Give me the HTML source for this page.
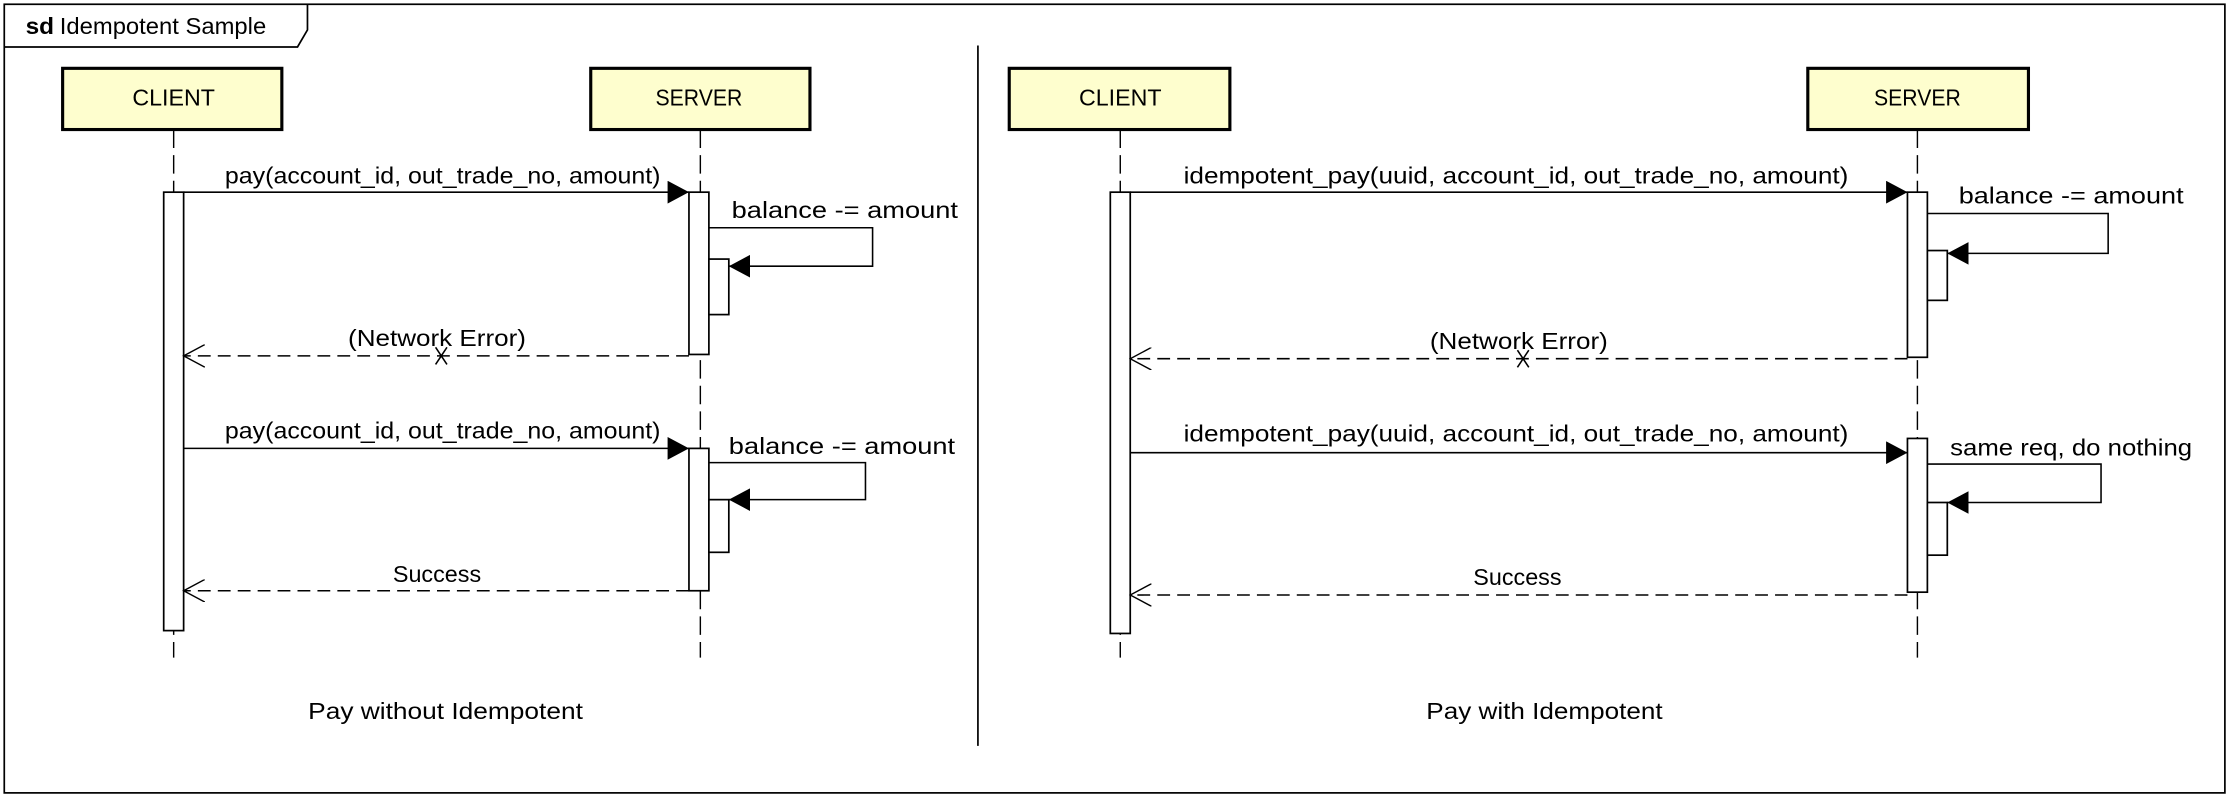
<!DOCTYPE html>
<html><head><meta charset="utf-8"><style>
html,body{margin:0;padding:0;background:#fff;}
svg{display:block;}
text{font-family:"Liberation Sans",sans-serif;font-size:16px;fill:#000;}
</style></head><body>
<svg width="2232" height="800" viewBox="0 0 1568 562" preserveAspectRatio="none">
<defs>
<marker id="f" markerWidth="16" markerHeight="16" refX="15" refY="8" orient="auto" markerUnits="userSpaceOnUse"><path d="M0,0 L15,8 L0,16 Z" fill="#000"/></marker>
<marker id="o" markerWidth="16" markerHeight="16" refX="15" refY="8" orient="auto" markerUnits="userSpaceOnUse"><path d="M0,0 L15,8 L0,16" fill="none" stroke="#000" stroke-width="1"/></marker>
</defs>
<rect x="3" y="3" width="1560" height="554" fill="#fff" stroke="#000" stroke-width="1.2"/>
<path d="M3,33 L209,33 L216,21 L216,3" fill="none" stroke="#000" stroke-width="1.2"/>
<text x="18" y="24" font-weight="bold" textLength="20" lengthAdjust="spacingAndGlyphs">sd</text>
<text x="42" y="24" textLength="145" lengthAdjust="spacingAndGlyphs">Idempotent Sample</text>
<line x1="687" y1="32" x2="687" y2="524" stroke="#000" stroke-width="1.2"/>

<g stroke="#000" stroke-width="1" stroke-dasharray="13,5" fill="none">
<line x1="122" y1="91" x2="122" y2="462"/><line x1="492" y1="91" x2="492" y2="462"/>
<line x1="787" y1="91" x2="787" y2="462"/><line x1="1347" y1="91" x2="1347" y2="462"/>
</g>
<g fill="#FEFECE" stroke="#000" stroke-width="2.2">
<rect x="44" y="48" width="154" height="43"/><rect x="415" y="48" width="154" height="43"/>
<rect x="709" y="48" width="155" height="43"/><rect x="1270" y="48" width="155" height="43"/>
</g>
<g text-anchor="middle">
<text x="122" y="74" textLength="58" lengthAdjust="spacingAndGlyphs">CLIENT</text><text x="491" y="74" textLength="61" lengthAdjust="spacingAndGlyphs">SERVER</text>
<text x="787" y="74" textLength="58" lengthAdjust="spacingAndGlyphs">CLIENT</text><text x="1347" y="74" textLength="61" lengthAdjust="spacingAndGlyphs">SERVER</text>
</g>

<!-- left -->
<g fill="#fff" stroke="#000" stroke-width="1.2">
<rect x="115" y="135" width="14" height="308"/>
<rect x="484" y="135" width="14" height="114"/>
<rect x="498" y="182" width="14" height="39"/>
<rect x="484" y="315" width="14" height="100"/>
<rect x="498" y="351" width="14" height="37"/>
</g>
<g stroke="#000" stroke-width="1.1" fill="none">
<line x1="129" y1="135" x2="484" y2="135" marker-end="url(#f)"/>
<polyline points="498,160 613,160 613,187 512,187" marker-end="url(#f)"/>
<line x1="484" y1="250" x2="129" y2="250" stroke-dasharray="9,5" marker-end="url(#o)"/>
<path d="M306,244 L314,256 M314,244 L306,256"/>
<line x1="129" y1="315" x2="484" y2="315" marker-end="url(#f)"/>
<polyline points="498,325 608,325 608,351 512,351" marker-end="url(#f)"/>
<line x1="484" y1="415" x2="129" y2="415" stroke-dasharray="9,5" marker-end="url(#o)"/>
</g>
<text x="311" y="129" text-anchor="middle" textLength="306" lengthAdjust="spacingAndGlyphs">pay(account_id, out_trade_no, amount)</text>
<text x="514" y="153" textLength="159" lengthAdjust="spacingAndGlyphs">balance -= amount</text>
<text x="307" y="243" text-anchor="middle" textLength="125" lengthAdjust="spacingAndGlyphs">(Network Error)</text>
<text x="311" y="308" text-anchor="middle" textLength="306" lengthAdjust="spacingAndGlyphs">pay(account_id, out_trade_no, amount)</text>
<text x="512" y="319" textLength="159" lengthAdjust="spacingAndGlyphs">balance -= amount</text>
<text x="307" y="409" text-anchor="middle" textLength="62" lengthAdjust="spacingAndGlyphs">Success</text>
<text x="313" y="505" text-anchor="middle" textLength="193" lengthAdjust="spacingAndGlyphs">Pay without Idempotent</text>

<!-- right -->
<g fill="#fff" stroke="#000" stroke-width="1.2">
<rect x="780" y="135" width="14" height="310"/>
<rect x="1340" y="135" width="14" height="116"/>
<rect x="1354" y="176" width="14" height="35"/>
<rect x="1340" y="308" width="14" height="108"/>
<rect x="1354" y="353" width="14" height="37"/>
</g>
<g stroke="#000" stroke-width="1.1" fill="none">
<line x1="794" y1="135" x2="1340" y2="135" marker-end="url(#f)"/>
<polyline points="1354,150 1481,150 1481,178 1368,178" marker-end="url(#f)"/>
<line x1="1340" y1="252" x2="794" y2="252" stroke-dasharray="9,5" marker-end="url(#o)"/>
<path d="M1066,246 L1074,258 M1074,246 L1066,258"/>
<line x1="794" y1="318" x2="1340" y2="318" marker-end="url(#f)"/>
<polyline points="1354,326 1476,326 1476,353 1368,353" marker-end="url(#f)"/>
<line x1="1340" y1="418" x2="794" y2="418" stroke-dasharray="9,5" marker-end="url(#o)"/>
</g>
<text x="1065" y="129" text-anchor="middle" textLength="467" lengthAdjust="spacingAndGlyphs">idempotent_pay(uuid, account_id, out_trade_no, amount)</text>
<text x="1376" y="143" textLength="158" lengthAdjust="spacingAndGlyphs">balance -= amount</text>
<text x="1067" y="245" text-anchor="middle" textLength="125" lengthAdjust="spacingAndGlyphs">(Network Error)</text>
<text x="1065" y="310" text-anchor="middle" textLength="467" lengthAdjust="spacingAndGlyphs">idempotent_pay(uuid, account_id, out_trade_no, amount)</text>
<text x="1370" y="320" textLength="170" lengthAdjust="spacingAndGlyphs">same req, do nothing</text>
<text x="1066" y="411" text-anchor="middle" textLength="62" lengthAdjust="spacingAndGlyphs">Success</text>
<text x="1085" y="505" text-anchor="middle" textLength="166" lengthAdjust="spacingAndGlyphs">Pay with Idempotent</text>
</svg>
</body></html>
